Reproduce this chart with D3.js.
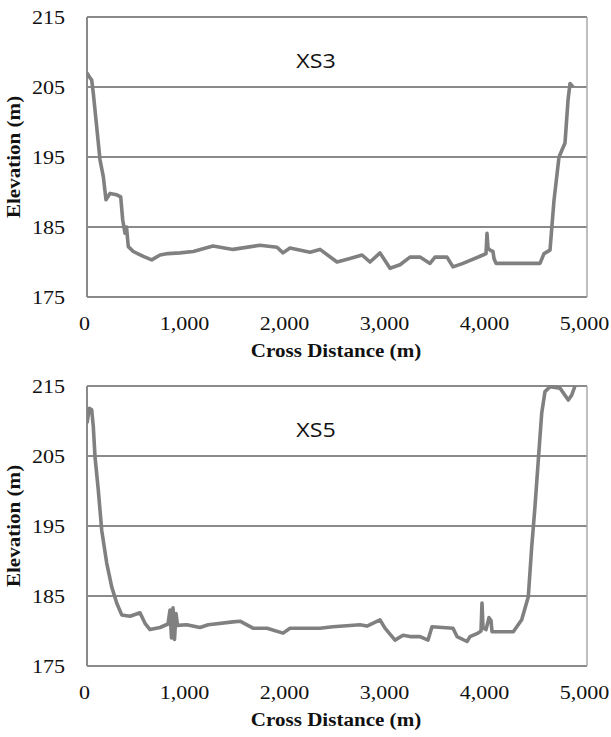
<!DOCTYPE html>
<meta charset="utf-8">
<style>
  body { margin: 0; background: #fff; }
  svg { display: block; }
  .tick text { font-family: "Liberation Serif", "Times New Roman", serif; font-size: 19px; fill: #111; }
  .axis-title { font-family: "Liberation Serif", "Times New Roman", serif; font-size: 18px; font-weight: bold; fill: #111; }
  .xs-label { font-family: "Open Sans", "Liberation Sans", sans-serif; font-size: 20px; fill: #111; }
</style>
<body>
<script src="https://d3js.org/d3.v7.min.js"></script>
<script>
  // XS3 cross-section
  var xs3Dist = [0, 30, 47, 63, 97, 130, 163, 190, 230, 297, 337, 357, 380, 395, 413, 463, 563, 647, 730, 810, 930, 1063,
    1260, 1460, 1730, 1900, 1960, 2030, 2230, 2330, 2500, 2630, 2750, 2830, 2930, 3030, 3130, 3230, 3330, 3430, 3480,
    3600, 3660, 3760, 3960, 3990, 4000, 4010, 4030, 4060, 4070, 4090, 4530, 4570, 4630, 4670, 4720, 4780, 4810, 4830, 4860];
  var xs3Elev = [207, 206.3, 206, 204.1, 199.3, 194.6, 192.2, 188.9, 189.8, 189.6, 189.3, 186, 184.1, 185, 182.2, 181.5, 180.8, 180.3, 181, 181.2, 181.3, 181.5,
    182.3, 181.8, 182.4, 182.1, 181.3, 182, 181.4, 181.8, 180, 180.5, 181, 180, 181.3, 179.1, 179.6, 180.7, 180.7, 179.8, 180.7,
    180.7, 179.3, 179.8, 181, 181.2, 184.1, 182, 181.7, 181.5, 180.5, 179.8, 179.8, 181.2, 181.7, 188.8, 195, 197, 203.1, 205.5, 205];

  // XS5 cross-section
  var xs5Dist = [0, 23, 47, 63, 80, 113, 147, 197, 247, 297, 347, 430, 530, 580, 630, 730, 810, 830, 845, 860, 875, 890, 905, 997,
    1130, 1213, 1460, 1530, 1660, 1800, 1960, 2030, 2330, 2460, 2730, 2800, 2930, 2980, 3080, 3160, 3230, 3330, 3410, 3450,
    3660, 3700, 3800, 3830, 3910, 3940, 3950, 3960, 3990, 4020, 4040, 4050, 4263, 4347, 4413, 4447, 4480, 4513, 4547, 4580,
    4630, 4730, 4813, 4847, 4880];
  var xs5Elev = [209.7, 211.8, 211.6, 209.2, 204.9, 200.1, 194.4, 189.7, 186.3, 184, 182.3, 182.1, 182.6, 181.1, 180.2, 180.5, 181, 183, 179, 183.3, 178.8, 182.5, 180.8, 180.9,
    180.5, 180.9, 181.3, 181.4, 180.4, 180.4, 179.7, 180.4, 180.4, 180.6, 180.9, 180.7, 181.6, 180.4, 178.7, 179.4, 179.2, 179.2, 178.7, 180.6,
    180.4, 179.2, 178.5, 179.2, 179.7, 180, 184, 180.5, 180.2, 181.9, 181.5, 179.9, 179.9, 181.6, 184.9, 192, 197.8, 204.4, 211.1, 214.2,
    214.9, 214.7, 213, 213.7, 215];

  var xTicks = [0, 1000, 2000, 3000, 4000, 5000];
  var yTicks = [175, 185, 195, 205, 215];

  var panels = [
    { name: "XS3", dist: xs3Dist, elev: xs3Elev, top: 17 },
    { name: "XS5", dist: xs5Dist, elev: xs5Elev, top: 386 }
  ];

  var left = 87, plotW = 500, plotH = 280;
  var gridColor = "#8a8a8a", lineColor = "#808080";

  var svg = d3.select("body").append("svg")
    .attr("width", 611)
    .attr("height", 737);

  var x = d3.scaleLinear().domain([0, 5000]).range([0, plotW]);
  var y = d3.scaleLinear().domain([175, 215]).range([plotH, 0]);

  panels.forEach(function (p) {
    var g = svg.append("g")
      .attr("transform", "translate(" + left + "," + p.top + ")");

    // horizontal grid
    g.selectAll(".grid")
      .data(yTicks)
      .enter()
      .append("line")
      .attr("x1", 0).attr("x2", plotW)
      .attr("y1", function (d) { return y(d); })
      .attr("y2", function (d) { return y(d); })
      .style("stroke", gridColor)
      .style("stroke-width", 2);

    // plot box sides
    g.append("line").attr("x1", 0).attr("x2", 0).attr("y1", 0).attr("y2", plotH)
      .style("stroke", gridColor).style("stroke-width", 2);
    g.append("line").attr("x1", plotW).attr("x2", plotW).attr("y1", 0).attr("y2", plotH)
      .style("stroke", "#aaa").style("stroke-width", 1.5);

    var yAxis = d3.axisLeft(y).tickValues(yTicks).tickSize(0).tickPadding(22);
    g.append("g").call(yAxis).call(function (a) { a.select(".domain").remove(); });

    var xAxis = d3.axisBottom(x).tickValues(xTicks).tickSize(0).tickPadding(20)
      .tickFormat(d3.format(","));
    g.append("g")
      .attr("transform", "translate(-3," + plotH + ")")
      .call(xAxis)
      .call(function (a) { a.select(".domain").remove(); });

    g.append("defs").append("clipPath").attr("id", "clip-" + p.name)
      .append("rect").attr("x", 0).attr("y", -1).attr("width", plotW).attr("height", plotH + 2);

    var pts = p.dist.map(function (d, i) { return [d, p.elev[i]]; });
    var line = d3.line()
      .x(function (d) { return x(d[0]); })
      .y(function (d) { return y(d[1]); });

    g.append("path")
      .datum(pts)
      .attr("clip-path", "url(#clip-" + p.name + ")")
      .attr("d", line)
      .style("fill", "none")
      .style("stroke", lineColor)
      .style("stroke-width", 3.6)
      .style("stroke-linejoin", "round");

    g.append("text")
      .attr("class", "xs-label")
      .attr("x", 229)
      .attr("y", 51)
      .attr("text-anchor", "middle")
      .text(p.name);

    g.append("text")
      .attr("class", "axis-title")
      .attr("x", 249)
      .attr("y", plotH + 60)
      .attr("text-anchor", "middle")
      .text("Cross Distance (m)");

    g.append("text")
      .attr("class", "axis-title")
      .attr("transform", "translate(-67," + (plotH / 2) + ") rotate(-90)")
      .attr("text-anchor", "middle")
      .text("Elevation (m)");
  });

  // the source text is a bit wider than the installed fonts
  svg.selectAll("text").each(function () {
    var k = this.getAttribute("class") === "axis-title" ? 1.17 : 1.16;
    var w = this.getComputedTextLength();
    d3.select(this).attr("textLength", w * k).attr("lengthAdjust", "spacingAndGlyphs");
  });
</script>
</body>
